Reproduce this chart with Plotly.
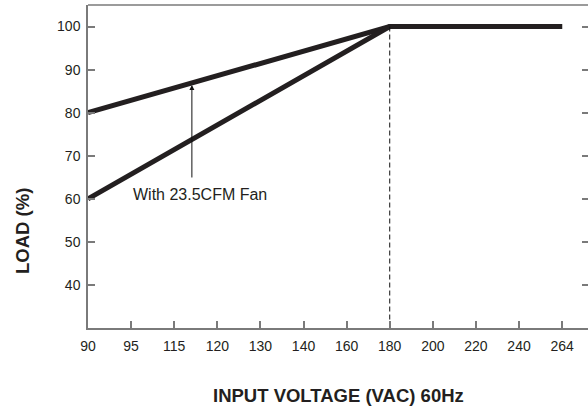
import plotly.graph_objects as go

# ---- data ----
voltage_ticks = ["90", "95", "115", "120", "130", "140", "160", "180", "200", "220", "240", "264"]
load_ticks = [40, 50, 60, 70, 80, 90, 100]

fan_voltage = ["90", "180", "264"]
fan_load = [80, 100, 100]

nofan_voltage = ["90", "180", "264"]
nofan_load = [60, 100, 100]

knee_voltage = "180"
knee_load = 100
y_min = 30
y_max = 105

arrow_voltage_pos = 2.41   # position along category axis for annotation arrow
arrow_tip_load = 86.4
arrow_tail_load = 64.6
label_text = "With 23.5CFM Fan"

idx = {v: i for i, v in enumerate(voltage_ticks)}

FONT = "Liberation Sans, Arial, sans-serif"
LINE_COLOR = "#231f20"
AXIS_COLOR = "#7a7a7a"
TEXT_COLOR = "#231f20"

W, H = 588, 408
ML, MR, MT, MB = 88, 0, 5, 80

fig = go.Figure()

fig.add_trace(go.Scatter(
    x=[idx[v] for v in fan_voltage], y=fan_load, mode="lines",
    line=dict(color=LINE_COLOR, width=5), showlegend=False, hoverinfo="skip"))
fig.add_trace(go.Scatter(
    x=[idx[v] for v in nofan_voltage], y=nofan_load, mode="lines",
    line=dict(color=LINE_COLOR, width=5), showlegend=False, hoverinfo="skip"))
# dashed knee line
fig.add_trace(go.Scatter(
    x=[idx[knee_voltage], idx[knee_voltage]], y=[knee_load, y_min], mode="lines",
    line=dict(color="#111111", width=1, dash="5px,3px"), showlegend=False, hoverinfo="skip"))
# dummy trace for right tick axis
fig.add_trace(go.Scatter(x=[None], y=[None], yaxis="y2", showlegend=False, hoverinfo="skip"))

pw = W - ML - MR
ph = H - MT - MB

fig.update_layout(
    width=W, height=H,
    margin=dict(l=ML, r=MR, t=MT, b=MB),
    paper_bgcolor="white", plot_bgcolor="white",
    font=dict(family=FONT, color=TEXT_COLOR, size=14),
    xaxis=dict(
        range=[0, 11.6], tickmode="array",
        tickvals=list(range(len(voltage_ticks))), ticktext=voltage_ticks,
        ticks="inside", ticklen=7, tickwidth=1.5, tickcolor=AXIS_COLOR,
        showline=True, linecolor=AXIS_COLOR, linewidth=2,
        showgrid=False, zeroline=False, ticklabelstandoff=4,
        tickfont=dict(size=14, family=FONT, color=TEXT_COLOR),
    ),
    yaxis=dict(
        range=[y_min, y_max], tickmode="array", tickvals=load_ticks,
        ticks="inside", ticklen=7, tickwidth=1.5, tickcolor=AXIS_COLOR,
        showline=True, linecolor=AXIS_COLOR, linewidth=1.5,
        showgrid=False, zeroline=False, ticklabelstandoff=3,
        tickfont=dict(size=14, family=FONT, color=TEXT_COLOR),
    ),
    yaxis2=dict(
        overlaying="y", side="right", range=[y_min, y_max],
        tickmode="array", tickvals=load_ticks,
        ticks="inside", ticklen=6, tickwidth=1.5, tickcolor=AXIS_COLOR,
        showticklabels=False, showline=False, showgrid=False, zeroline=False,
    ),
    shapes=[dict(type="line", xref="paper", yref="paper", x0=0, x1=1, y0=1, y1=1,
                 line=dict(color=AXIS_COLOR, width=1.5))],
    annotations=[
        dict(x=arrow_voltage_pos, y=arrow_tip_load, ax=arrow_voltage_pos, ay=arrow_tail_load,
             xref="x", yref="y", axref="x", ayref="y", text="", showarrow=True,
             arrowhead=2, arrowsize=1, arrowwidth=1, arrowcolor="#111111", standoff=0),
        dict(x=2.6, y=61, xref="x", yref="y", text=label_text, showarrow=False,
             font=dict(size=16, family=FONT, color=TEXT_COLOR)),
        dict(x=(338 - ML) / pw, y=-(395 - (H - MB)) / ph, xref="paper", yref="paper",
             yanchor="middle", xanchor="center",
             text="<b>INPUT VOLTAGE (VAC) 60Hz</b>",
             showarrow=False, font=dict(size=18.5, family=FONT, color=TEXT_COLOR)),
        dict(x=(22 - ML) / pw, y=1 - (231 - MT) / ph, xref="paper", yref="paper",
             text="<b>LOAD (%)</b>", textangle=-90, xanchor="center", yanchor="middle",
             showarrow=False, font=dict(size=18.5, family=FONT, color=TEXT_COLOR)),
    ],
)

fig.write_html("out.html", config={"displayModeBar": False},
               post_script="document.body.style.margin='0';document.body.style.overflow='hidden';")
